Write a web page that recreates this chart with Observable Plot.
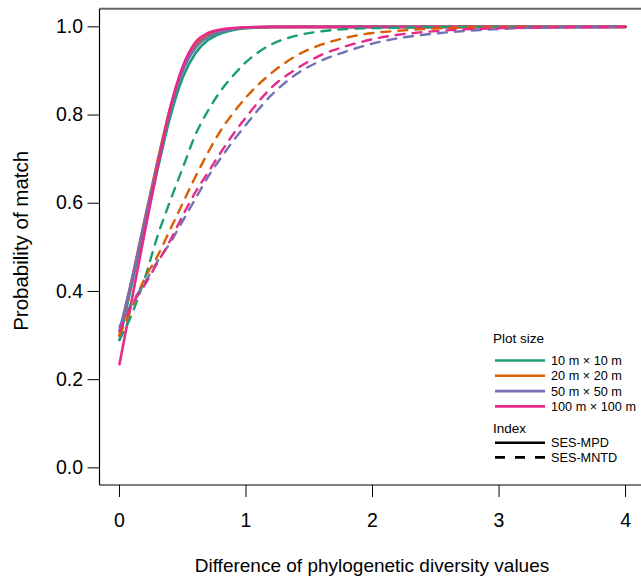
<!DOCTYPE html>
<html>
<head>
<meta charset="utf-8">
<script src="https://cdn.jsdelivr.net/npm/d3@7"></script>
<script src="https://cdn.jsdelivr.net/npm/@observablehq/plot@0.6"></script>
<style>
  html, body { margin: 0; padding: 0; background: white; }
  #chart { width: 641px; height: 578px; }
</style>
</head>
<body>
<div id="chart"></div>
<script>
// ---- data ----
const plotSizes = ["10 m × 10 m", "20 m × 20 m", "50 m × 50 m", "100 m × 100 m"];
const sizeColors = ["#1B9E77", "#D95F02", "#7570B3", "#E7298A"];
const indexNames = ["SES-MPD", "SES-MNTD"];
const xTicks = [0, 1, 2, 3, 4];
const yTicks = [0, 0.2, 0.4, 0.6, 0.8, 1.0];

// SES-MPD (solid)
const xSolid = [0, 0.05, 0.1, 0.2, 0.3, 0.4, 0.5, 0.6, 0.7, 0.8, 0.9, 1.0, 1.2, 1.5, 2, 3, 4];
const mpd10  = [0.29, 0.355, 0.42, 0.55, 0.675, 0.795, 0.885, 0.94, 0.97, 0.985, 0.993, 0.997, 0.999, 1, 1, 1, 1];
const mpd20  = [0.30, 0.365, 0.43, 0.565, 0.695, 0.815, 0.905, 0.958, 0.981, 0.991, 0.996, 0.998, 1, 1, 1, 1, 1];
const mpd50  = [0.31, 0.37, 0.43, 0.56, 0.69, 0.81, 0.90, 0.952, 0.977, 0.989, 0.995, 0.998, 1, 1, 1, 1, 1];
const mpd100 = [0.235, 0.31, 0.385, 0.535, 0.68, 0.815, 0.91, 0.965, 0.986, 0.994, 0.997, 0.999, 1, 1, 1, 1, 1];

// SES-MNTD (dashed)
const xDashed = [0, 0.1, 0.2, 0.3, 0.4, 0.5, 0.6, 0.7, 0.8, 0.9, 1.0, 1.2, 1.4, 1.6, 1.8, 2.0, 2.2, 2.4, 2.7, 3.0, 3.5, 4.0];
const mntd10  = [0.29, 0.35, 0.43, 0.525, 0.605, 0.68, 0.755, 0.81, 0.855, 0.89, 0.92, 0.96, 0.98, 0.99, 0.995, 0.997, 0.998, 0.999, 1, 1, 1, 1];
const mntd20  = [0.30, 0.365, 0.43, 0.48, 0.54, 0.60, 0.66, 0.715, 0.765, 0.805, 0.84, 0.895, 0.935, 0.96, 0.976, 0.986, 0.991, 0.995, 0.998, 0.999, 1, 1];
const mntd50  = [0.32, 0.375, 0.42, 0.468, 0.51, 0.56, 0.61, 0.66, 0.702, 0.742, 0.778, 0.845, 0.893, 0.924, 0.945, 0.962, 0.974, 0.982, 0.99, 0.995, 0.999, 1];
const mntd100 = [0.31, 0.37, 0.415, 0.465, 0.515, 0.572, 0.625, 0.67, 0.715, 0.757, 0.795, 0.862, 0.905, 0.937, 0.957, 0.972, 0.982, 0.988, 0.994, 0.997, 0.999, 1];

// ---- build tidy tables ----
function rows(xs, ys, size, index) {
  return xs.map((x, i) => ({x, y: ys[i], size, index}));
}
const solidRows = [
  ...rows(xSolid, mpd10, plotSizes[0], indexNames[0]),
  ...rows(xSolid, mpd20, plotSizes[1], indexNames[0]),
  ...rows(xSolid, mpd50, plotSizes[2], indexNames[0]),
  ...rows(xSolid, mpd100, plotSizes[3], indexNames[0])
];
const dashedRows = [
  ...rows(xDashed, mntd10, plotSizes[0], indexNames[1]),
  ...rows(xDashed, mntd20, plotSizes[1], indexNames[1]),
  ...rows(xDashed, mntd50, plotSizes[2], indexNames[1]),
  ...rows(xDashed, mntd100, plotSizes[3], indexNames[1])
];

const W = 641, H = 578;
const mL = 99.5, mR = 0, mT = 8.7, mB = 93;
const font = "'Liberation Sans', Arial, Helvetica, sans-serif";

const chart = Plot.plot({
  width: W,
  height: H,
  marginLeft: mL,
  marginRight: mR,
  marginTop: mT,
  marginBottom: mB,
  style: {fontFamily: font, fontSize: "19.5px", color: "black", background: "white", overflow: "visible"},
  x: {domain: [-0.154, 4.126], ticks: xTicks, tickSize: 12, tickPadding: 16, tickFormat: d3.format("d"), label: null},
  y: {domain: [-0.04, 1.04], ticks: yTicks, tickSize: 12, tickPadding: 5, tickFormat: d3.format(".1f"), label: null},
  color: {domain: plotSizes, range: sizeColors},
  marks: [
    Plot.line(solidRows, {x: "x", y: "y", z: "size", stroke: "size", strokeWidth: 2.6, curve: "monotone-x"}),
    Plot.line(dashedRows, {x: "x", y: "y", z: "size", stroke: "size", strokeWidth: 2.4, strokeDasharray: "9,8", curve: "monotone-x"})
  ]
});

document.getElementById("chart").appendChild(chart);

// ---- box (left, bottom black; top grey), axis titles, legend ----
const svg = d3.select(chart);
const x0 = mL, yTop = mT, yBot = H - mB;
svg.append("line").attr("x1", x0).attr("x2", W).attr("y1", yTop).attr("y2", yTop)
  .attr("stroke", "#666").attr("stroke-width", 2);
svg.append("line").attr("x1", x0).attr("x2", x0).attr("y1", yTop).attr("y2", yBot)
  .attr("stroke", "black").attr("stroke-width", 1.2);
svg.append("line").attr("x1", x0).attr("x2", W).attr("y1", yBot).attr("y2", yBot)
  .attr("stroke", "black").attr("stroke-width", 1.2);

svg.append("text")
  .attr("transform", `translate(28,${(yTop + yBot) / 2 - 6}) rotate(-90)`)
  .attr("text-anchor", "middle")
  .attr("font-family", font).attr("font-size", "20.5px").attr("fill", "black")
  .text("Probability of match");

svg.append("text")
  .attr("x", 372).attr("y", 572)
  .attr("text-anchor", "middle")
  .attr("font-family", font).attr("font-size", "19px").attr("fill", "black")
  .text("Difference of phylogenetic diversity values");

const leg = svg.append("g").attr("font-family", font).attr("fill", "black").attr("text-anchor", "start");
leg.append("text").attr("x", 493).attr("y", 342.5).attr("font-size", "13.5px").text("Plot size");
const rowY = [360.5, 375.8, 391.1, 406.4];
plotSizes.forEach((s, i) => {
  leg.append("line").attr("x1", 495).attr("x2", 545).attr("y1", rowY[i]).attr("y2", rowY[i])
    .attr("stroke", sizeColors[i]).attr("stroke-width", 2.6);
  leg.append("text").attr("x", 551).attr("y", rowY[i]).attr("dy", "0.35em").attr("font-size", "12.7px").text(s);
});
leg.append("text").attr("x", 493).attr("y", 432.5).attr("font-size", "13.5px").text("Index");
const idxY = [442.8, 457.4];
const idxDash = [null, "10,10"];
indexNames.forEach((s, i) => {
  const l = leg.append("line").attr("x1", 495).attr("x2", 545).attr("y1", idxY[i]).attr("y2", idxY[i])
    .attr("stroke", "black").attr("stroke-width", 2.6);
  if (idxDash[i]) l.attr("stroke-dasharray", idxDash[i]);
  leg.append("text").attr("x", 551).attr("y", idxY[i]).attr("dy", "0.35em").attr("font-size", "12.7px").text(s);
});
</script>
</body>
</html>
